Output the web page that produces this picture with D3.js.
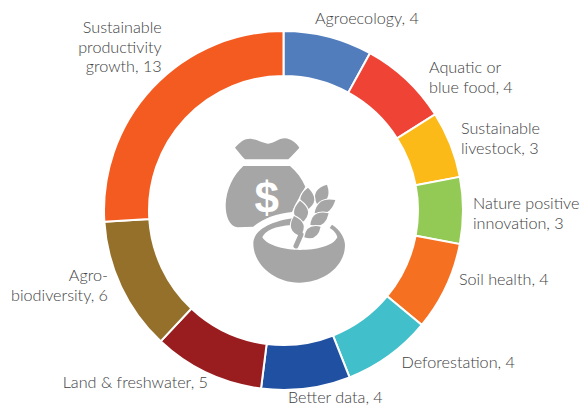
<!DOCTYPE html>
<html>
<head>
<meta charset="utf-8">
<script src="https://cdn.jsdelivr.net/npm/d3@7"></script>
<style>
  html, body { margin: 0; padding: 0; background: #fff; }
  svg { display: block; }
  text { font-family: Lato, "Open Sans", sans-serif; font-weight: 300; }
</style>
</head>
<body>
<svg width="583" height="407"></svg>
<script>
// chart data, clockwise from 12 o'clock
const categories = ["Agroecology", "Aquatic or blue food", "Sustainable livestock", "Nature positive innovation",
  "Soil health", "Deforestation", "Better data", "Land & freshwater", "Agro-biodiversity", "Sustainable productivity growth"];
const counts = [4, 4, 3, 3, 4, 4, 4, 5, 6, 13];
const labelLines = [
  ["Agroecology, 4"],
  ["Aquatic or", "blue food, 4"],
  ["Sustainable", "livestock, 3"],
  ["Nature positive", "innovation, 3"],
  ["Soil health, 4"],
  ["Deforestation, 4"],
  ["Better data, 4"],
  ["Land & freshwater, 5"],
  ["Agro-", "biodiversity, 6"],
  ["Sustainable", "productivity", "growth, 13"]
];
const colors = ["#517dbd", "#ee4335", "#fbba17", "#93c955", "#f57021", "#41bfca", "#2050a2", "#991d1f", "#94702b", "#f45b20"];

// where each label sits: x, first baseline, anchor
const labelPos = [
  [315, 23.5, "start"], [429, 73, "start"], [461, 134, "start"], [473, 209, "start"], [459, 285, "start"],
  [401.5, 368, "start"], [288, 403, "start"], [208, 388, "end"], [108, 281, "end"], [161.7, 33, "end"]
];

var svg = d3.select("svg"),
  cx = 283.5,
  cy = 210.5,
  outerRadius = 179.5,
  innerRadius = 134.5,
  lineHeight = 19.5;

var pie = d3.pie().sort(null).value(function(d) { return d; });
var arc = d3.arc().innerRadius(innerRadius).outerRadius(outerRadius);

var g = svg.append("g").attr("transform", "translate(" + cx + "," + cy + ")");

g.selectAll("path")
  .data(pie(counts))
  .enter().append("path")
  .attr("d", arc)
  .attr("fill", function(d, i) { return colors[i]; })
  .attr("stroke", "#fff")
  .attr("stroke-width", 2)
  .append("title").text(function(d, i) { return categories[i]; });

var labels = svg.selectAll("text.label")
  .data(labelLines)
  .enter().append("text")
  .attr("class", "label")
  .attr("font-size", 16.2)
  .attr("fill", "#414143")
  .attr("text-anchor", function(d, i) { return labelPos[i][2]; });

labels.each(function(lines, i) {
  d3.select(this).selectAll("tspan")
    .data(lines)
    .enter().append("tspan")
    .attr("x", labelPos[i][0])
    .attr("y", function(d, j) { return labelPos[i][1] + j * lineHeight; })
    .text(function(d) { return d; });
});

// centre icon, money bag and bowl. drawn in a 3x space, then scaled down
var iconGrey = "#a6a6a6";
var icon = svg.append("g").attr("transform", "translate(200,110) scale(0.3333)");

// bag tie
icon.append("path").attr("fill", iconGrey)
  .attr("d", "M105,113 C120,95 135,85 152,86 C170,88 190,101 205,101 C220,101 235,85 255,85 C272,86 288,98 298,113 C288,125 275,138 265,148 L135,148 C125,138 115,125 105,113Z");

// bag body
icon.append("path").attr("fill", iconGrey)
  .attr("d", "M130,168 L270,168 C290,185 305,205 316,230 L285,285 L276,306 C230,310 190,325 160,350 L112,352 C88,348 77,320 77,285 C78,240 100,195 130,168Z");

icon.append("text")
  .attr("x", 200).attr("y", 308)
  .attr("text-anchor", "middle")
  .attr("font-size", 132)
  .attr("fill", "#fff")
  .style("font-family", "Liberation Sans")
  .style("font-weight", 700)
  .text("$");

// bowl
icon.append("path").attr("fill", iconGrey)
  .attr("d", "M160,400 C160,372 190,338 278,325 L276,345 C225,348 195,362 187,382 C205,410 260,420 300,420 C350,420 400,408 412,382 C410,370 400,360 389,354 L396,344 C420,358 435,385 435,405 C435,470 370,518 297,518 C225,518 160,465 160,400Z");

// wheat: [tipX, tipY, baseX, baseY, width]
var wheat = [
  [381, 224, 351, 282, 38],
  [324, 233, 320, 300, 42],
  [300, 272, 306, 338, 42],
  [282, 318, 301, 378, 38],
  [406, 270, 344, 308, 36],
  [386, 310, 331, 344, 36],
  [362, 350, 313, 382, 32]
];

function grainPath(d) {
  var dx = d[2] - d[0], dy = d[3] - d[1], len = Math.sqrt(dx * dx + dy * dy);
  var nx = -dy / len * d[4], ny = dx / len * d[4];
  var mx = d[0] + dx * 0.55, my = d[1] + dy * 0.55;
  return "M" + d[0] + "," + d[1] +
    " Q" + (mx + nx) + "," + (my + ny) + " " + d[2] + "," + d[3] +
    " Q" + (mx - nx) + "," + (my - ny) + " " + d[0] + "," + d[1] + "Z";
}

icon.append("g").selectAll("path")
  .data(wheat)
  .enter().append("path")
  .attr("d", grainPath)
  .attr("fill", iconGrey)
  .attr("stroke", "#fff")
  .attr("stroke-width", 6)
  .attr("paint-order", "stroke");

// stalk
icon.append("path")
  .attr("d", "M288,408 L303,374")
  .attr("stroke", iconGrey)
  .attr("stroke-width", 15)
  .attr("stroke-linecap", "round");
</script>
</body>
</html>
